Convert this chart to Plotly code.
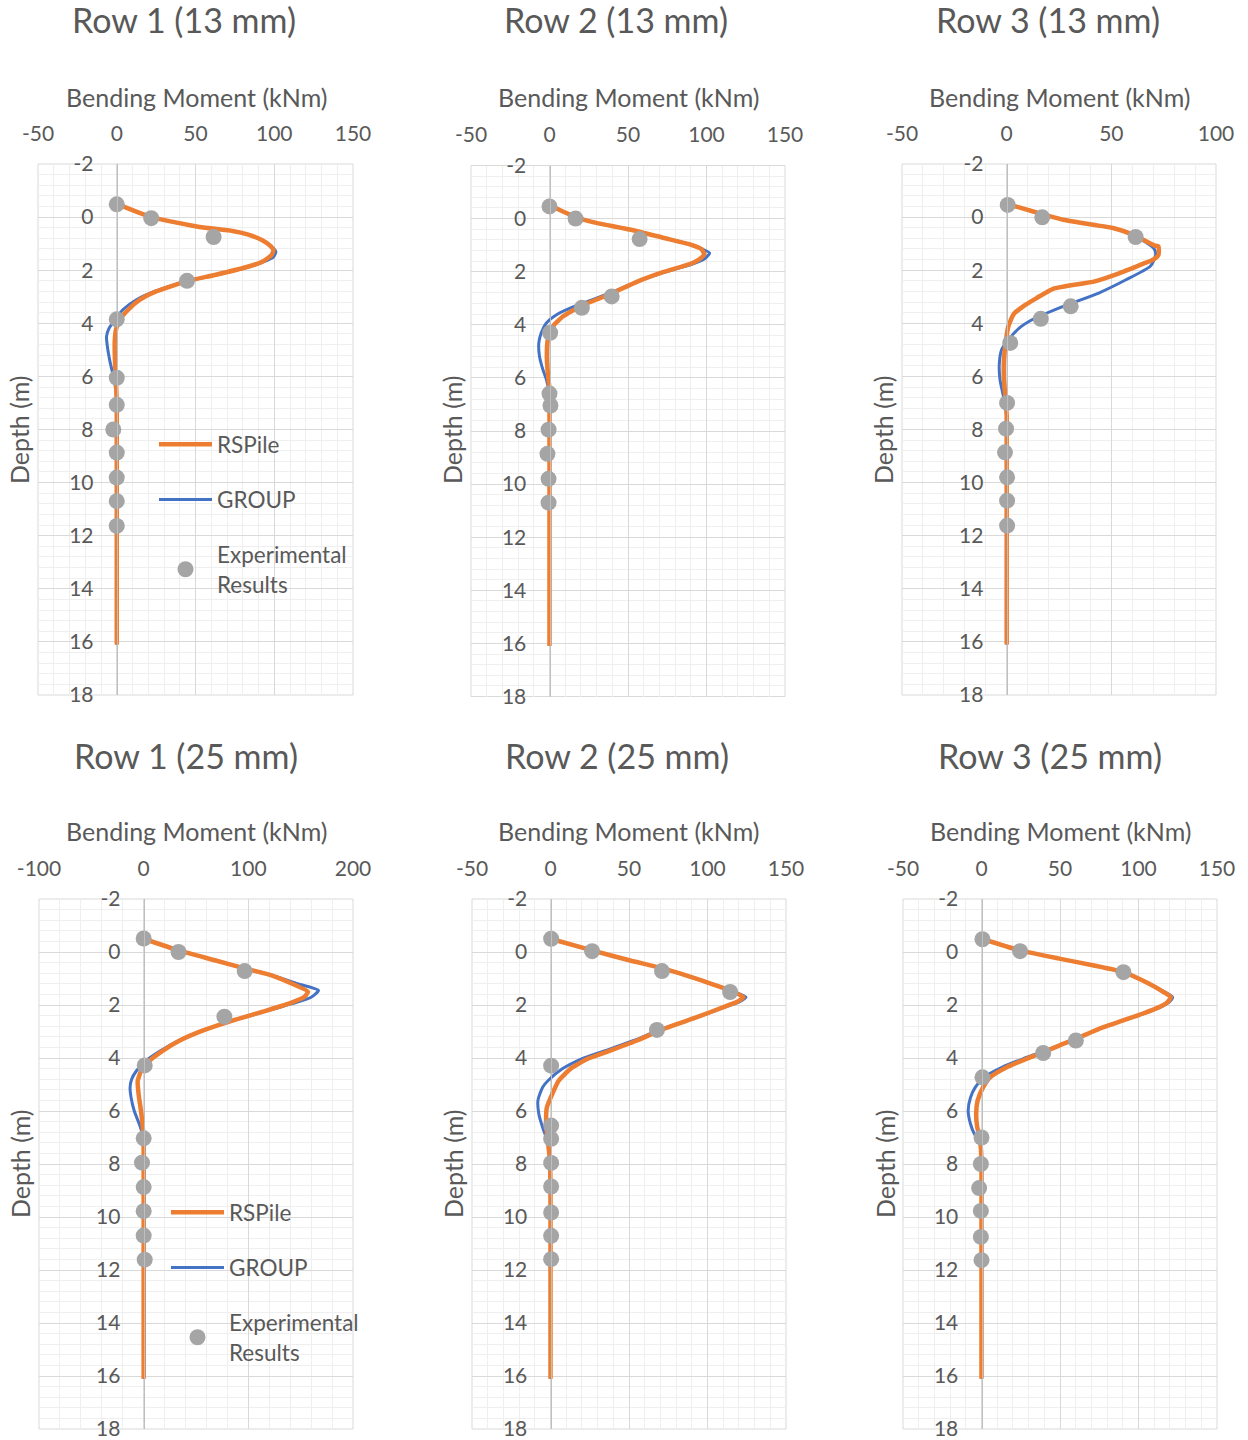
import plotly.graph_objects as go

W, H = 1248, 1440
ORANGE = "#ED7D31"
BLUE = "#4472C4"
GREY = "#A5A5A5"
TEXT = "#595959"
MAJOR = "#D9D9D9"
MINOR = "#EFEFEF"
AXIS = "#BFBFBF"
FONT = "Lato"

DEPTH_TICKS = [-2, 0, 2, 4, 6, 8, 10, 12, 14, 16, 18]

# ---- Row 1, 13 mm ----
R1_13_RS_D = [-0.5, 0.0, 0.37, 0.52, 0.65, 0.87, 1.09, 1.24, 1.43, 1.68, 1.89, 2.17, 2.42, 2.80, 3.11,
              3.48, 3.85, 4.22, 4.72, 5.47, 6.09, 7.0, 8.0, 10.0, 12.0, 14.0, 16.1]
R1_13_RS_M = [0, 22, 52.5, 73.5, 83, 92.4, 97.7, 99.5, 98.3, 92.4, 82, 63, 44, 25, 14.7,
              7.4, 2.1, -0.4, -1.3, -1.1, -0.6, 0, 0, 0, 0, 0, 0]
R1_13_GR_D = [-0.5, 0.0, 0.37, 0.52, 0.65, 0.87, 1.09, 1.3, 1.5, 1.68, 1.89, 2.17, 2.42, 2.80, 3.11,
              3.48, 3.85, 4.2, 4.5, 4.85, 5.47, 6.0, 6.5, 7.0, 8.0, 10.0, 12.0, 14.0, 16.1]
R1_13_GR_M = [0, 22, 52.5, 73.5, 83, 92.4, 98, 101, 99.5, 93.5, 83, 63.5, 44, 24, 12.5,
              4, -1, -5, -6.5, -6, -4.2, -2.1, -0.6, 0, 0, 0, 0, 0, 0]
R1_13_EX_D = [-0.48, 0.04, 0.75, 2.4, 3.85, 6.05, 7.07, 8.0, 8.87, 9.81, 10.7, 11.63]
R1_13_EX_M = [0, 21.9, 61.5, 44.6, 0, 0, 0, -2.2, 0, 0, 0, 0]

# ---- Row 2, 13 mm ----
R2_13_RS_D = [-0.5, -0.06, 0.16, 0.41, 0.72, 0.97, 1.15, 1.34, 1.52, 1.71, 2.02, 2.39, 2.82, 3.28,
              3.69, 4.06, 4.56, 5.18, 5.8, 6.41, 7.0, 8.0, 10.0, 12.0, 14.0, 16.1]
R2_13_RS_M = [0, 16.6, 29.8, 51.1, 72.3, 89.4, 96.8, 98.5, 95.7, 89.4, 72.3, 55.3, 39.6, 20.6,
              8.5, 2.1, -1.1, -1.7, -1.1, 0, 0, 0, 0, 0, 0, 0]
R2_13_GR_D = [-0.5, -0.06, 0.16, 0.41, 0.72, 0.97, 1.15, 1.3, 1.5, 1.71, 2.02, 2.39, 2.82, 3.28,
              3.6, 3.94, 4.31, 4.68, 5.18, 5.67, 6.04, 6.5, 7.0, 8.0, 10.0, 12.0, 14.0, 16.1]
R2_13_GR_M = [0, 16.6, 29.8, 51.1, 72.3, 89.4, 97.5, 102, 99, 91, 73, 55, 38, 17,
              5, -2.1, -5.3, -6.8, -6.4, -4.3, -2.1, -0.4, 0, 0, 0, 0, 0, 0]
R2_13_EX_D = [-0.46, 0.0, 0.77, 2.93, 3.36, 4.3, 6.59, 7.04, 7.95, 8.86, 9.8, 10.7]
R2_13_EX_M = [0, 16.6, 57.4, 39.6, 20.6, 0.4, 0, 0.6, -0.6, -1.3, -0.6, -0.6]

# ---- Row 3, 13 mm ----
R3_13_RS_D = [-0.5, -0.21, 0.10, 0.29, 0.41, 0.66, 1.07, 1.10, 1.42, 1.61, 1.76, 2.11, 2.42, 2.70,
              3.05, 3.36, 3.67, 4.12, 4.74, 5.37, 6.12, 6.88, 7.5, 8.0, 10.0, 12.0, 14.0, 16.1]
R3_13_RS_M = [0, 12.7, 27.0, 41.3, 50.8, 60.3, 70.6, 72.5, 72.5, 69.8, 65.1, 54.0, 42.1, 22.2,
              14.3, 7.9, 3.2, 0.8, -0.5, -1.3, -1.3, -0.5, 0, 0, 0, 0, 0, 0]
R3_13_GR_D = [-0.5, -0.21, 0.10, 0.29, 0.41, 0.66, 0.95, 1.2, 1.4, 1.6, 1.86, 2.36, 2.86, 3.36,
              3.83, 4.18, 4.55, 4.99, 5.50, 6.12, 6.62, 7.0, 7.5, 8.0, 10.0, 12.0, 14.0, 16.1]
R3_13_GR_M = [0, 12.7, 27.0, 41.3, 50.8, 60.0, 66.5, 70.5, 71.2, 70.5, 68.5, 57, 44, 27,
              13, 6, 1.5, -2.4, -3.5, -3.2, -1.9, -0.8, 0, 0, 0, 0, 0, 0]
R3_13_EX_D = [-0.46, 0.01, 0.75, 3.36, 3.83, 4.74, 7.0, 7.97, 8.86, 9.8, 10.68, 11.62]
R3_13_EX_M = [0.5, 17, 61.6, 30.6, 16.3, 1.7, 0.2, -0.3, -0.8, 0.2, 0.2, 0.2]

# ---- Row 1, 25 mm ----
R1_25_RS_D = [-0.5, -0.06, 0.32, 0.63, 0.89, 1.20, 1.5, 1.71, 1.90, 2.22, 2.59, 2.97, 3.35, 3.73,
              4.11, 4.49, 4.87, 5.38, 6.01, 6.9, 7.5, 8.0, 10.0, 12.0, 14.0, 16.1]
R1_25_RS_M = [0, 33.3, 68.9, 97.5, 122.9, 141.9, 157, 153.0, 141.9, 116.5, 84.8, 56.2, 34.0, 18.1,
              5.4, -2.5, -5.7, -4.8, -2.5, -0.3, 0, 0, 0, 0, 0, 0]
R1_25_GR_D = [-0.5, -0.06, 0.32, 0.63, 0.89, 1.20, 1.45, 1.71, 1.90, 2.22, 2.59, 2.97, 3.35, 3.73,
              4.11, 4.49, 4.8, 5.13, 5.5, 6.01, 6.5, 6.9, 7.5, 8.0, 10.0, 12.0, 14.0, 16.1]
R1_25_GR_M = [0, 33.3, 68.9, 97.5, 124, 147, 167, 160, 146, 118, 85, 56, 33, 16,
              2, -7, -11.5, -13, -12, -8.9, -4.1, -1, 0, 0, 0, 0, 0, 0]
R1_25_EX_D = [-0.51, 0.0, 0.72, 2.44, 4.28, 7.03, 7.95, 8.87, 9.78, 10.7, 11.61]
R1_25_EX_M = [0, 33.3, 96.5, 77.1, 1, 0, -1.6, 0, 0, 0, 1]

# ---- Row 2, 25 mm ----
R2_25_RS_D = [-0.5, -0.06, 0.32, 0.63, 1.01, 1.32, 1.51, 1.70, 1.89, 2.08, 2.46, 2.90, 3.34, 3.72,
              4.04, 4.41, 4.85, 5.36, 5.86, 6.37, 6.81, 7.12, 7.6, 8.0, 9.0, 10.0, 12.0, 14.0, 16.1]
R2_25_RS_M = [0, 26.5, 50.8, 72.0, 93.2, 108.1, 116.5, 122.9, 118.6, 110.2, 93.2, 72.0, 55.1, 38.1,
              23.3, 12.7, 5.3, 1.1, -2.3, -2.8, -2.3, -1.7, -0.8, -0.3, 0, 0, 0, 0, 0]
R2_25_GR_D = [-0.5, -0.06, 0.32, 0.63, 1.01, 1.32, 1.51, 1.70, 1.89, 2.08, 2.46, 2.90, 3.34, 3.72,
              4.04, 4.41, 4.85, 5.1, 5.6, 6.12, 6.62, 6.87, 7.1, 7.6, 8.0, 10.0, 12.0, 14.0, 16.1]
R2_25_GR_M = [0, 26.5, 50.8, 72.0, 93.2, 108.5, 117.5, 124.5, 120, 111, 93.5, 71, 53, 35,
              19.5, 7.5, -1.5, -5, -8, -7.4, -5, -3.5, -2, -0.8, -0.3, 0, 0, 0, 0]
R2_25_EX_D = [-0.5, -0.03, 0.72, 1.51, 2.94, 4.29, 6.55, 7.05, 7.96, 8.85, 9.83, 10.71, 11.59]
R2_25_EX_M = [0.4, 26.5, 71, 114.4, 67.8, 0.4, 0.4, 0.4, 0.4, 0.4, 0.4, 0.4, 0.4]

# ---- Row 3, 25 mm ----
R3_25_RS_D = [-0.5, -0.06, 0.25, 0.50, 0.76, 1.20, 1.45, 1.70, 1.89, 2.08, 2.33, 2.59, 2.90, 3.28,
              3.53, 3.78, 4.04, 4.35, 4.73, 5.11, 5.61, 6.12, 6.62, 7.0, 7.5, 8.0, 10.0, 12.0, 14.0, 16.1]
R3_25_RS_M = [0, 24.6, 49.5, 70.7, 90.4, 106.8, 114.2, 120.6, 118.5, 113.2, 102.5, 89.8, 74.9, 60.1,
              49.5, 39.3, 28.2, 16, 5.5, 1, -2.5, -3.4, -2.7, -1.1, -0.3, 0, 0, 0, 0, 0]
R3_25_GR_D = [-0.5, -0.06, 0.25, 0.50, 0.76, 1.20, 1.45, 1.70, 1.89, 2.08, 2.33, 2.59, 2.90, 3.28,
              3.53, 3.78, 4.04, 4.35, 4.73, 5.11, 5.49, 5.99, 6.49, 6.87, 7.1, 7.5, 8.0, 10.0, 12.0, 14.0, 16.1]
R3_25_GR_M = [0, 24.6, 49.5, 70.7, 90.4, 107, 115, 121.7, 119.5, 114, 103, 90, 75, 60,
              49, 38, 26, 13, 1.5, -4, -7, -8.5, -7, -4.5, -1.5, -0.3, 0, 0, 0, 0, 0]
R3_25_EX_D = [-0.48, -0.03, 0.76, 3.34, 3.81, 4.73, 7.0, 8.0, 8.91, 9.77, 10.75, 11.63]
R3_25_EX_M = [0.6, 24.6, 90.4, 60.1, 39.3, 0.6, 0, -0.4, -1.5, -0.4, -0.4, 0]

TITLES = ["Row 1 (13 mm)", "Row 2 (13 mm)", "Row 3 (13 mm)",
          "Row 1 (25 mm)", "Row 2 (25 mm)", "Row 3 (25 mm)"]
X_RANGES = [(-50, 150), (-50, 150), (-50, 100), (-100, 200), (-50, 150), (-50, 150)]
X_STEPS = [50, 50, 50, 100, 50, 50]

SERIES = [
    (R1_13_RS_D, R1_13_RS_M, R1_13_GR_D, R1_13_GR_M, R1_13_EX_D, R1_13_EX_M),
    (R2_13_RS_D, R2_13_RS_M, R2_13_GR_D, R2_13_GR_M, R2_13_EX_D, R2_13_EX_M),
    (R3_13_RS_D, R3_13_RS_M, R3_13_GR_D, R3_13_GR_M, R3_13_EX_D, R3_13_EX_M),
    (R1_25_RS_D, R1_25_RS_M, R1_25_GR_D, R1_25_GR_M, R1_25_EX_D, R1_25_EX_M),
    (R2_25_RS_D, R2_25_RS_M, R2_25_GR_D, R2_25_GR_M, R2_25_EX_D, R2_25_EX_M),
    (R3_25_RS_D, R3_25_RS_M, R3_25_GR_D, R3_25_GR_M, R3_25_EX_D, R3_25_EX_M),
]

# plot-area boxes in pixels: left, top, right, bottom
BOXES = [(38, 164, 353, 695), (471, 165.5, 785, 696.5), (902, 164, 1216, 695),
         (39, 899, 353, 1429), (472, 899, 786, 1429), (903, 899, 1217, 1429)]
TITLE_POS = [(184, 20), (616, 20), (1048, 20), (186, 755), (617, 755), (1050, 755)]
XTITLE_POS = [(196, 97), (628, 97), (1059, 97), (196, 831), (628, 831), (1060, 831)]
YTITLE_POS = [(19, 430), (452, 430), (883, 430), (20, 1164), (453, 1164), (885, 1164)]


def px(x):
    return x / W


def py(y):
    return 1 - y / H


fig = go.Figure()
annotations = []
shapes = []

for i in range(6):
    n = i + 1
    xa, ya = ("x", "y") if n == 1 else (f"x{n}", f"y{n}")
    rs_d, rs_m, gr_d, gr_m, ex_d, ex_m = SERIES[i]
    legend_id = {0: "legend", 3: "legend2"}.get(i)
    show = legend_id is not None

    fig.add_trace(go.Scatter(
        x=gr_m, y=gr_d, xaxis=xa, yaxis=ya, mode="lines", name="GROUP",
        line=dict(color=BLUE, width=3, shape="spline", smoothing=0.6),
        showlegend=show, legend=legend_id or "legend", legendgroup=f"g{n}", legendrank=2))
    fig.add_trace(go.Scatter(
        x=rs_m, y=rs_d, xaxis=xa, yaxis=ya, mode="lines", name="RSPile",
        line=dict(color=ORANGE, width=4.5, shape="spline", smoothing=0.5),
        showlegend=show, legend=legend_id or "legend", legendgroup=f"r{n}", legendrank=1))
    fig.add_trace(go.Scatter(
        x=ex_m, y=ex_d, xaxis=xa, yaxis=ya, mode="markers", name="Experimental<br>Results",
        marker=dict(color=GREY, size=16),
        showlegend=show, legend=legend_id or "legend", legendgroup=f"e{n}", legendrank=3))

    x0, y0, x1, y1 = BOXES[i]
    lo, hi = X_RANGES[i]
    step = X_STEPS[i]
    xt = list(range(lo, hi + 1, step))
    zero_pos = px(x0 + (0 - lo) / (hi - lo) * (x1 - x0))

    fig.layout[f"xaxis{n}"] = dict(
        domain=[px(x0), px(x1)], anchor=ya, side="top", range=[lo, hi],
        tickmode="array", tickvals=xt, ticktext=[str(v) for v in xt],
        showgrid=True, gridcolor=MAJOR, gridwidth=1,
        minor=dict(tickmode="linear", tick0=lo, dtick=step / 5, showgrid=True,
                   gridcolor=MINOR, gridwidth=1),
        zeroline=False, showline=False, ticks="", ticklabelstandoff=18, automargin=False,
        ticklabeloverflow="allow",
        tickfont=dict(family=FONT, size=21, color=TEXT), fixedrange=True)
    fig.layout[f"yaxis{n}"] = dict(
        domain=[py(y1), py(y0)], anchor="free", position=zero_pos, side="left",
        range=[18, -2], tickmode="array", tickvals=DEPTH_TICKS,
        ticktext=[str(v) for v in DEPTH_TICKS],
        showgrid=True, gridcolor=MAJOR, gridwidth=1,
        minor=dict(tickmode="linear", tick0=-2, dtick=0.4, showgrid=True,
                   gridcolor=MINOR, gridwidth=1),
        zeroline=False, showline=True, linecolor=AXIS, linewidth=1,
        ticks="", ticklabelstandoff=19, automargin=False, ticklabeloverflow="allow",
        tickfont=dict(family=FONT, size=21, color=TEXT), fixedrange=True)

    shapes.append(dict(type="rect", xref=f"{xa} domain", yref=f"{ya} domain",
                       x0=0, x1=1, y0=0, y1=1, line=dict(color=MAJOR, width=1), layer="below"))

    tx, ty = TITLE_POS[i]
    annotations.append(dict(text=TITLES[i], x=px(tx), y=py(ty), xref="paper", yref="paper",
                            xanchor="center", yanchor="middle", showarrow=False,
                            font=dict(family=FONT, size=34, color=TEXT)))
    ax_, ay_ = XTITLE_POS[i]
    annotations.append(dict(text="Bending Moment (kNm)", x=px(ax_), y=py(ay_), xref="paper",
                            yref="paper", xanchor="center", yanchor="middle", showarrow=False,
                            font=dict(family=FONT, size=25, color=TEXT)))
    dx_, dy_ = YTITLE_POS[i]
    annotations.append(dict(text="Depth (m)", x=px(dx_), y=py(dy_), xref="paper", yref="paper",
                            xanchor="center", yanchor="middle", showarrow=False, textangle=-90,
                            font=dict(family=FONT, size=25, color=TEXT)))

legend_style = dict(xanchor="left", yanchor="top", bgcolor="rgba(0,0,0,0)",
                    font=dict(family=FONT, size=22.5, color=TEXT), itemwidth=53,
                    traceorder="grouped", tracegroupgap=23, itemclick=False)

fig.update_layout(
    width=W, height=H, margin=dict(l=0, r=0, t=0, b=0, autoexpand=False),
    paper_bgcolor="white", plot_bgcolor="white",
    showlegend=True,
    legend=dict(x=px(154), y=py(423), **legend_style),
    legend2=dict(x=px(166), y=py(1191), **legend_style),
    annotations=annotations, shapes=shapes,
)

fig.write_html("out.html")
